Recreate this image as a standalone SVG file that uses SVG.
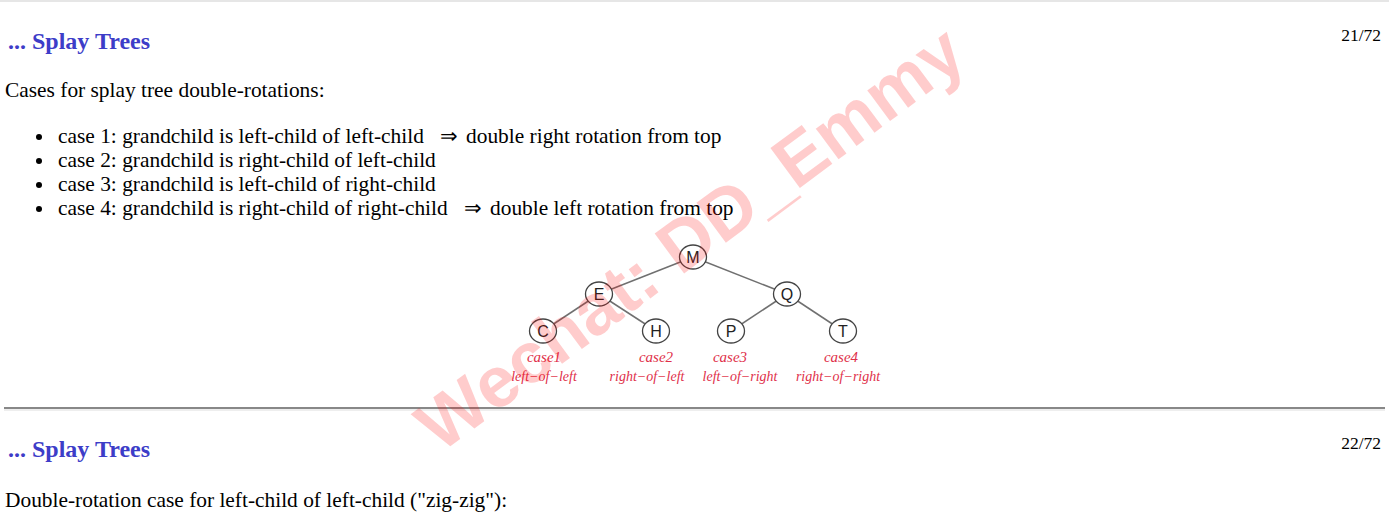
<svg xmlns="http://www.w3.org/2000/svg" width="1389" height="520" viewBox="0 0 1389 520">
<style>
.h{font-family:"Liberation Serif",serif;font-weight:bold;font-size:24px;fill:#3d3dc8}
.pg{font-family:"Liberation Serif",serif;font-size:17.5px;fill:#000}
.t{font-family:"Liberation Serif",serif;font-size:21.4px;fill:#000}
.nd ellipse{fill:#fff;stroke:#444;stroke-width:1.3}
.nd text{font-family:"Liberation Sans",Arial,sans-serif;font-size:16px;fill:#222;text-anchor:middle}
.cs{font-family:"Liberation Serif",serif;font-style:italic;font-size:15px;fill:#e0304a;text-anchor:middle}
.sb{font-family:"Liberation Serif",serif;font-style:italic;font-size:14px;fill:#e0304a;text-anchor:middle}
.wm{font-family:"Liberation Sans",Arial,sans-serif;font-weight:bold;font-size:72px;fill:#ff0000;fill-opacity:0.2;text-anchor:middle}
</style>
<rect width="1389" height="520" fill="#fff"/>
<line x1="0" y1="1" x2="1389" y2="1" stroke="#e6e6e6" stroke-width="2"/>
<text class="h" x="8" y="49">... Splay Trees</text>
<text class="pg" x="1381" y="41" text-anchor="end">21/72</text>
<text class="t" x="5" y="97">Cases for splay tree double-rotations:</text>
<g id="list">
<circle cx="39" cy="137" r="3" fill="#000"/>
<circle cx="39" cy="161" r="3" fill="#000"/>
<circle cx="39" cy="185" r="3" fill="#000"/>
<circle cx="39" cy="209" r="3" fill="#000"/>
<text class="t" x="58" y="143">case 1: grandchild is left-child of left-child</text>
<text class="t" x="440" y="143">⇒</text>
<text class="t" x="466" y="143">double right rotation from top</text>
<text class="t" x="58" y="167">case 2: grandchild is right-child of left-child</text>
<text class="t" x="58" y="191">case 3: grandchild is left-child of right-child</text>
<text class="t" x="58" y="215">case 4: grandchild is right-child of right-child</text>
<text class="t" x="464" y="215">⇒</text>
<text class="t" x="490" y="215">double left rotation from top</text>
</g>
<g id="connectors" stroke="#707070" stroke-width="1.5">
<line x1="693" y1="257" x2="599" y2="294"/>
<line x1="693" y1="257" x2="787" y2="294"/>
<line x1="599" y1="294" x2="543" y2="331"/>
<line x1="599" y1="294" x2="656" y2="331"/>
<line x1="787" y1="294" x2="731" y2="331"/>
<line x1="787" y1="294" x2="843" y2="331"/>
</g>
<g id="M" class="nd"><ellipse cx="693" cy="257" rx="13.5" ry="12"/><text x="693" y="263">M</text></g>
<g id="E" class="nd"><ellipse cx="599" cy="294" rx="13.5" ry="12"/><text x="599" y="300">E</text></g>
<g id="Q" class="nd"><ellipse cx="787" cy="294" rx="13.5" ry="12"/><text x="787" y="300">Q</text></g>
<g id="C" class="nd"><ellipse cx="543" cy="331" rx="13.5" ry="12"/><text x="543" y="337">C</text></g>
<g id="H" class="nd"><ellipse cx="656" cy="331" rx="13.5" ry="12"/><text x="656" y="337">H</text></g>
<g id="P" class="nd"><ellipse cx="731" cy="331" rx="13.5" ry="12"/><text x="731" y="337">P</text></g>
<g id="T" class="nd"><ellipse cx="843" cy="331" rx="13.5" ry="12"/><text x="843" y="337">T</text></g>
<text class="cs" x="544" y="362">case1</text>
<text class="sb" x="544" y="381">left−of−left</text>
<text class="cs" x="656" y="362">case2</text>
<text class="sb" x="647" y="381">right−of−left</text>
<text class="cs" x="730" y="362">case3</text>
<text class="sb" x="740" y="381">left−of−right</text>
<text class="cs" x="841" y="362">case4</text>
<text class="sb" x="838" y="381">right−of−right</text>
<line x1="4" y1="408" x2="1385" y2="408" stroke="#888" stroke-width="2"/>
<line x1="4" y1="410" x2="1385" y2="410" stroke="#ddd" stroke-width="1"/>
<text class="h" x="8" y="457">... Splay Trees</text>
<text class="pg" x="1381" y="449" text-anchor="end">22/72</text>
<text class="t" x="5" y="507">Double-rotation case for left-child of left-child ("zig-zig"):</text>
<text class="wm" transform="translate(690,238) rotate(-36.5)" x="0" y="25">Wechat: DD_Emmy</text>
</svg>
